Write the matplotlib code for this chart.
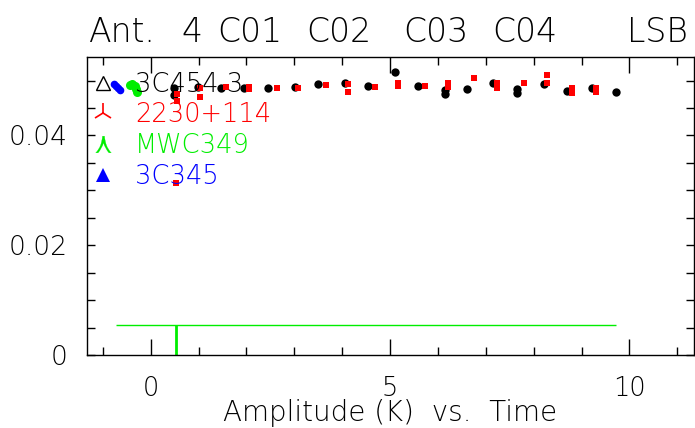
import matplotlib
matplotlib.use("Agg")
import matplotlib.pyplot as plt
from matplotlib.lines import Line2D
from matplotlib.ticker import MultipleLocator, FixedLocator

# ---- data ----
black_x = [0.48, 0.48, 0.98, 1.46, 1.96, 2.46, 3.02, 3.50, 4.06, 4.54, 5.10, 5.58,
           6.15, 6.15, 6.60, 7.15, 7.65, 7.65, 8.21, 8.69, 9.21, 9.73]
black_y = [0.0486, 0.0474, 0.0489, 0.0487, 0.0487, 0.0487, 0.0489, 0.0493, 0.0496, 0.0491, 0.0515, 0.0491,
           0.0482, 0.0476, 0.0484, 0.0496, 0.0484, 0.0477, 0.0493, 0.0481, 0.0486, 0.0480]

red_x = [0.55, 0.55, 0.52, 1.04, 1.04, 1.58, 2.06, 2.06, 2.63, 3.08, 3.67, 4.12, 4.12, 4.69,
         5.17, 5.17, 5.73, 6.21, 6.21, 6.75, 7.23, 7.23, 7.79, 8.27, 8.27, 8.81, 8.81, 9.31, 9.31]
red_y = [0.0476, 0.0462, 0.0313, 0.0486, 0.0470, 0.0488, 0.0489, 0.0484, 0.0486, 0.0486, 0.0492, 0.0494, 0.0479, 0.0489,
         0.0495, 0.0490, 0.0491, 0.0495, 0.0488, 0.0504, 0.0495, 0.0487, 0.0495, 0.0511, 0.0495, 0.0487, 0.0477, 0.0486, 0.0480]
red_err = [0.0003] * len(red_x)

blue_x = [-0.76, -0.72, -0.68, -0.64]
blue_y = [0.0494, 0.0491, 0.0487, 0.0483]

green_x = [-0.44, -0.38, -0.33, -0.30, -0.28]
green_y = [0.0492, 0.0494, 0.0491, 0.0485, 0.0480]

green_level = 0.00545
green_level_x = [-0.73, 9.73]
green_spike_x = 0.53

legend_labels = ["3C454.3", "2230+114", "MWC349", "3C345"]
title_words = ["Ant.", "4", "C01", "C02", "C03", "C04", "LSB"]
xtick_vals = [0, 5, 10]
ytick_vals = [0, 0.02, 0.04]
ytick_labels = ["0", "0.02", "0.04"]

GREEN = "#00ee00"
RED = "#ff0000"
BLUE = "#0000ff"
FW = 200

plt.rcParams['font.family'] = ['DejaVu Sans']
plt.rcParams['font.weight'] = FW

fig = plt.figure(figsize=(6.95, 4.28), dpi=100)
ax = fig.add_axes([87/695, 1-355/428, (694-87)/695, (355-57)/428])

ax.hlines(green_level, green_level_x[0], green_level_x[1], color=GREEN, lw=1.0)
ax.vlines(green_spike_x, 0, green_level, color=GREEN, lw=2.0)

ax.plot(black_x, black_y, 'o', color='black', ms=6, mew=0)
ax.errorbar(red_x, red_y, yerr=red_err, fmt='s', color=RED, ms=5, mew=0,
            ecolor=RED, elinewidth=1, capsize=3.2, capthick=1)
ax.plot(blue_x, blue_y, 'o', color=BLUE, ms=5.5, mew=0)
ax.plot(green_x, green_y, 'o', color=GREEN, ms=6.5, mew=0)

ax.set_xlim(-1.33, 11.35)
ax.set_ylim(0, 0.0543)

ax.xaxis.set_major_locator(FixedLocator(xtick_vals))
ax.xaxis.set_minor_locator(MultipleLocator(1))
ax.yaxis.set_major_locator(FixedLocator(ytick_vals))
ax.yaxis.set_minor_locator(MultipleLocator(0.005))
ax.set_xticklabels([str(v) for v in xtick_vals])
ax.set_yticklabels(ytick_labels)
ax.tick_params(axis='x', which='major', direction='in', length=11.5, width=1, top=True, pad=15, labelsize=18.5)
ax.tick_params(axis='x', which='minor', direction='in', length=5.5, width=1, top=True)
ax.tick_params(axis='y', which='major', direction='in', length=5.5, width=1, right=True, pad=14, labelsize=19)
ax.tick_params(axis='y', which='minor', direction='in', length=5.5, width=1, right=True)
for s in ax.spines.values():
    s.set_linewidth(1.0)

ax.set_xlabel("Amplitude (K)  vs.  Time", fontsize=20, labelpad=-1, fontweight=FW)

handles = [
    Line2D([], [], ls='none', marker='^', mfc='none', mec='black', ms=10, mew=1),
    Line2D([], [], ls='none', marker='2', color=RED, ms=14, mew=1.2),
    Line2D([], [], ls='none', marker='$\\curlywedge$', color=GREEN, ms=12, mew=0.2),
    Line2D([], [], ls='none', marker='^', color=BLUE, ms=10, mew=0),
]
leg = ax.legend(handles, legend_labels, loc='upper left', bbox_to_anchor=(-0.012, 0.985),
                frameon=False, fontsize=18.5, handlelength=1.0, handletextpad=0.75,
                labelspacing=0.22, borderaxespad=0.3, borderpad=0.1)
for t, c in zip(leg.get_texts(), ['black', RED, GREEN, BLUE]):
    t.set_color(c)
    t.set_fontweight(FW)

title_x = [88, 181, 217, 306, 403, 492, 627]
for w, xp in zip(title_words, title_x):
    fig.text(xp/695, 1-42/428, w, fontsize=23.8, ha='left', va='baseline', fontweight=FW)

fig.savefig("out.png", dpi=100)
